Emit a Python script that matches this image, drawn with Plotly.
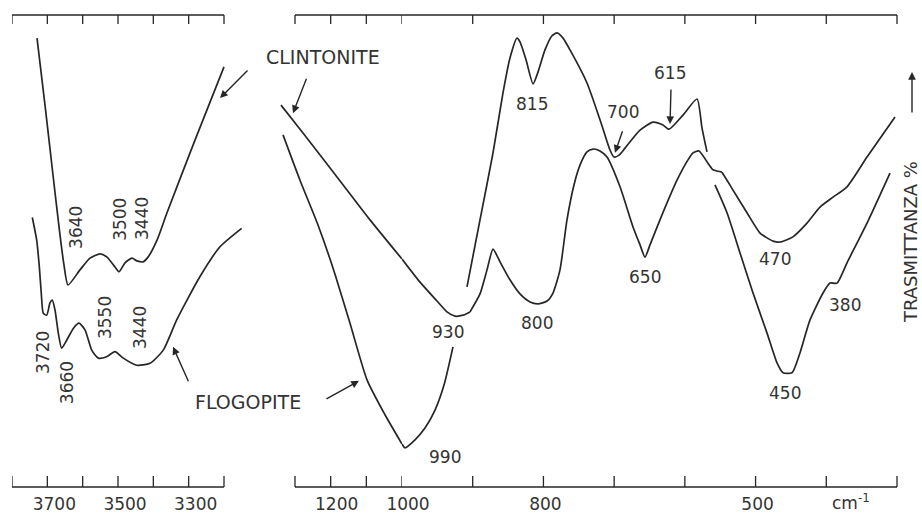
import plotly.graph_objects as go

# ---------------- data: wavenumber (cm-1) and transmittance (%, arbitrary) ----------------
# CLINTONITE, OH region (left panel)
clint_oh_wn = [3729.2, 3706.6, 3684.0, 3664.2, 3652.8, 3641.5, 3607.5, 3579.2, 3550.9, 3531.1,
               3508.5, 3497.2, 3480.2, 3460.4, 3446.2, 3429.2, 3415.1, 3389.6, 3361.3, 3282.1, 3200.0]
clint_oh_t = [95.1, 80.9, 66.1, 53.4, 47.0, 42.8, 46.0, 48.5, 49.4, 48.7,
              46.6, 45.6, 47.5, 48.5, 47.9, 47.7, 48.7, 52.3, 58.1, 73.5, 89.0]

# FLOGOPITE, OH region (left panel)
flog_oh_wn = [3742.5, 3730.1, 3722.7, 3717.1, 3711.4, 3701.8, 3692.5, 3685.9, 3678.3, 3668.9,
              3659.4, 3645.2, 3626.5, 3610.4, 3593.4, 3574.4, 3555.6, 3532.0, 3508.5, 3485.0,
              3447.1, 3409.4, 3371.8, 3333.9, 3267.9, 3211.3, 3150.0]
flog_oh_t = [57.1, 52.3, 46.7, 41.0, 36.8, 36.4, 39.0, 39.6, 37.5, 32.6,
             29.4, 31.1, 33.6, 34.7, 33.3, 29.0, 27.3, 27.6, 28.7, 27.3,
             25.8, 26.2, 29.0, 35.4, 44.6, 50.9, 54.8]

# CLINTONITE, lattice region (right panel), drawn in pen segments
clint_a_wn = [1339.2, 1277.6, 1182.2, 1089.7, 1000.0, 974.5, 950.5, 936.4, 925.0, 913.7, 903.8]
clint_a_t = [80.9, 75.0, 65.7, 56.6, 48.3, 43.4, 39.4, 37.1, 36.2, 36.4, 37.1]

clint_b_wn = [908.1, 889.7, 871.3, 857.2, 847.3, 837.4, 833.1, 824.6, 814.7, 807.7,
              797.8, 787.9, 780.8, 772.3, 762.4, 738.4, 720.0, 705.9, 700.2, 693.1,
              684.6, 663.4, 645.0, 630.9, 622.4, 602.6, 582.8, 575.8, 568.7]
clint_b_t = [42.4, 56.6, 70.8, 83.5, 90.9, 95.1, 94.3, 90.5, 85.4, 87.9,
             92.6, 95.6, 96.2, 95.1, 92.6, 85.6, 77.8, 71.4, 69.9, 70.3,
             71.8, 75.6, 77.3, 76.7, 75.8, 78.8, 82.2, 76.1, 71.0]

clint_c_wn = [547.5, 540.4, 531.9, 512.1, 493.7, 475.3, 465.4, 447.1, 427.3, 408.9,
              390.5, 370.7, 342.4, 302.8]
clint_c_t = [66.7, 65.0, 62.9, 58.1, 53.8, 52.1, 51.9, 53.0, 55.9, 59.3,
             61.4, 63.6, 69.9, 78.4]

# FLOGOPITE, lattice region (right panel)
flog_a_wn = [1333.6, 1286.0, 1235.5, 1193.5, 1145.8, 1098.1, 1047.7, 1000.0, 995.8, 981.6,
             967.5, 953.3, 940.6, 927.9]
flog_a_t = [74.6, 65.0, 55.5, 46.4, 34.7, 22.7, 15.3, 9.1, 8.3, 10.0,
            12.5, 16.3, 21.6, 29.7]

flog_b_wn = [903.8, 889.7, 879.8, 871.3, 861.4, 847.3, 833.1, 819.0, 807.7, 794.9,
             786.5, 776.6, 766.7, 756.8, 748.3, 738.4, 729.9, 720.0, 710.1, 691.7,
             673.3, 663.4, 656.4, 649.3, 635.2, 611.1, 595.6, 588.5, 580.0, 567.3,
             560.2, 553.1, 547.5]
flog_b_t = [37.1, 40.9, 46.0, 50.4, 47.7, 43.9, 40.9, 39.2, 38.8, 39.4,
            41.1, 46.0, 56.6, 64.0, 68.2, 71.0, 71.6, 71.2, 69.9, 63.6,
            55.1, 51.3, 48.7, 51.3, 56.6, 65.0, 69.3, 70.8, 71.2, 68.6,
            67.2, 66.9, 66.7]

flog_c_wn = [557.4, 540.4, 522.0, 503.6, 483.8, 469.7, 461.2, 448.5, 437.2, 423.0,
             404.6, 394.7, 384.8, 370.7, 342.4, 309.9]
flog_c_t = [64.0, 58.1, 49.6, 41.1, 32.6, 26.3, 24.2, 24.2, 28.4, 35.4,
            41.1, 43.2, 43.2, 47.5, 55.9, 66.5]

# axis ticks
left_ticks = [3800, 3700, 3600, 3500, 3400, 3300, 3200]
left_labels = ["3700", "3500", "3300"]
right_hi_ticks = [1300, 1200, 1100, 1000]
right_hi_labels = ["1200", "1000"]
right_lo_ticks = [900, 800, 700, 600, 500, 400, 300]
right_lo_labels = ["800", "500"]

# peak labels
peak_labels_right = ["815", "700", "615", "930", "800", "990", "650", "470", "380", "450"]
peak_labels_left = ["3640", "3500", "3440", "3720", "3660", "3550", "3440"]

# ---------------- layout ----------------
W, H = 922, 513
TOP, BOT = 15, 26
PH = H - TOP - BOT
LINE = "#262626"
TXT = "#333333"
FONT = "DejaVu Sans"

fig = go.Figure()


def add_curve(wn, t, xaxis):
    fig.add_trace(go.Scatter(x=wn, y=t, xaxis=xaxis, yaxis="y", mode="lines",
                             line=dict(color=LINE, width=1.7, shape="spline", smoothing=0.6),
                             hoverinfo="skip"))


def add_split(wn, t):
    hi = [(w, v) for w, v in zip(wn, t) if w >= 1000]
    lo = [(w, v) for w, v in zip(wn, t) if w <= 1000]
    add_curve([p[0] for p in hi], [p[1] for p in hi], "x2")
    add_curve([p[0] for p in lo], [p[1] for p in lo], "x3")


add_curve(clint_oh_wn, clint_oh_t, "x")
add_curve(flog_oh_wn, flog_oh_t, "x")
add_split(clint_a_wn, clint_a_t)
add_split(flog_a_wn, flog_a_t)
add_curve(clint_b_wn, clint_b_t, "x3")
add_curve(clint_c_wn, clint_c_t, "x3")
add_curve(flog_b_wn, flog_b_t, "x3")
add_curve(flog_c_wn, flog_c_t, "x3")

# frame lines and ticks as shapes on the axis scales
frame = dict(color=LINE, width=1.3)
top_len = 9 / PH
bot_len = 11 / PH
for xref, ticks in (("x", left_ticks), ("x2", right_hi_ticks), ("x3", [1000] + right_lo_ticks)):
    for yy in (0, 1):
        fig.add_shape(type="line", xref=xref, yref="paper", x0=ticks[0], x1=ticks[-1],
                      y0=yy, y1=yy, line=frame)
    tick_list = ticks if xref != "x3" else ticks[1:]
    for tv in tick_list:
        fig.add_shape(type="line", xref=xref, yref="paper", x0=tv, x1=tv, y0=0, y1=bot_len, line=frame)
        fig.add_shape(type="line", xref=xref, yref="paper", x0=tv, x1=tv, y0=1, y1=1 - top_len, line=frame)

tickfont = dict(family=FONT, size=17, color=TXT)
axis_common = dict(showgrid=False, zeroline=False, showline=False, ticks="outside", ticklen=2,
                   tickcolor="rgba(0,0,0,0)", tickmode="array", tickfont=tickfont, anchor="y",
                   automargin=False)

fig.update_layout(
    width=W, height=H, autosize=False,
    margin=dict(l=0, r=0, t=TOP, b=BOT, autoexpand=False),
    paper_bgcolor="white", plot_bgcolor="white", showlegend=False,
    xaxis=dict(domain=[12 / W, 245 / W], range=[3800, 3800 - 233 / 0.353333],
               tickvals=[3700, 3500, 3300], ticktext=left_labels, ticklabelshift=-7, **axis_common),
    xaxis2=dict(domain=[278 / W, 402 / W], range=[1000 + 124 / 0.356667, 1000],
                tickvals=[1200, 1000], ticktext=right_hi_labels, ticklabelshift=-6, **axis_common),
    xaxis3=dict(domain=[402 / W, 900 / W], range=[1000, 1000 - 498 / 0.707143],
                tickvals=[800, 500], ticktext=right_lo_labels, ticklabelshift=-2, **axis_common),
    yaxis=dict(domain=[0, 1], range=[0, 100], visible=False),
)

numfont = dict(family=FONT, size=17, color=TXT)
# right panel peak labels (axis, wavenumber, transmittance position)
right_pos = [("x3", 816.2, 81.1), ("x3", 687.5, 79.4), ("x3", 621.0, 87.7), ("x3", 934.9, 32.8),
             ("x3", 809.1, 34.7), ("x3", 939.2, 6.4), ("x3", 656.4, 44.5), ("x3", 472.5, 48.3),
             ("x3", 373.5, 38.6), ("x3", 458.4, 19.9)]
for txt, (xr, xv, yv) in zip(peak_labels_right, right_pos):
    fig.add_annotation(x=xv, y=yv, xref=xr, yref="y", text=txt, showarrow=False, font=numfont,
                       xanchor="center", yanchor="middle")

left_pos = [(3618.9, 55.1), (3494.3, 56.6), (3432.1, 57.0), (3712.3, 28.6),
            (3644.3, 22.0), (3536.8, 35.8), (3437.7, 33.7)]
for txt, (xv, yv) in zip(peak_labels_left, left_pos):
    fig.add_annotation(x=xv, y=yv, xref="x", yref="y", text=txt, showarrow=False,
                       textangle=-90, font=numfont, xanchor="center", yanchor="middle")

# arrows (head in data coords, tail offset in pixels)
arrows = [("x", 3211.3, 82.4, 29, -29), ("x2", 1305.6, 79.2, 14, -36),
          ("x", 3344.3, 29.7, 16, 36), ("x2", 1120.6, 22.5, -34, 19),
          ("x3", 698.8, 70.8, 8, -23), ("x3", 621.0, 76.9, 1, -36)]
for xr, xv, yv, ax, ay in arrows:
    fig.add_annotation(x=xv, y=yv, xref=xr, yref="y", ax=ax, ay=ay, text="", showarrow=True,
                       arrowhead=2, arrowsize=1.1, arrowwidth=1.4, arrowcolor=LINE, standoff=0)

namefont = dict(family=FONT, size=19, color=TXT)
fig.add_annotation(x=323 / W, y=(H - BOT - 57) / PH, xref="paper", yref="paper", text="CLINTONITE",
                   showarrow=False, font=namefont, xanchor="center", yanchor="middle")
fig.add_annotation(x=248 / W, y=(H - BOT - 402) / PH, xref="paper", yref="paper", text="FLOGOPITE",
                   showarrow=False, font=namefont, xanchor="center", yanchor="middle")
fig.add_annotation(x=910 / W, y=(H - BOT - 242) / PH, xref="paper", yref="paper",
                   text="TRASMITTANZA %", textangle=-90, showarrow=False,
                   font=dict(family=FONT, size=18, color=TXT),
                   xanchor="center", yanchor="middle")
fig.add_annotation(x=912 / W, y=(H - BOT - 72) / PH, xref="paper", yref="paper", ax=0, ay=42,
                   text="", showarrow=True, arrowhead=2, arrowsize=1.1, arrowwidth=1.4,
                   arrowcolor=LINE, standoff=0)
fig.add_annotation(x=851 / W, y=(H - BOT - 502) / PH, xref="paper", yref="paper",
                   text="cm<sup>-1</sup>", showarrow=False, font=numfont,
                   xanchor="center", yanchor="middle")

fig.write_html("out.html", config={"displayModeBar": False},
               post_script="document.body.style.margin='0';document.body.style.padding='0';")
